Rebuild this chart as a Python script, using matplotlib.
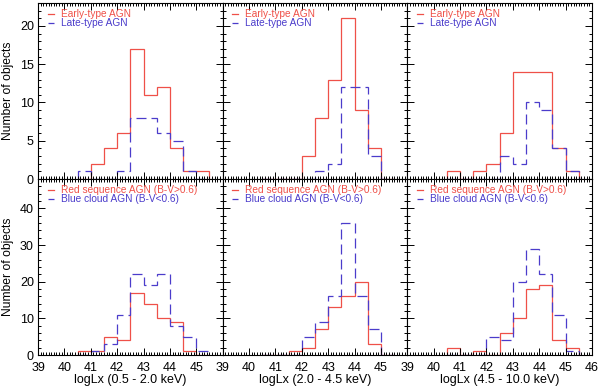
import matplotlib.pyplot as plt
import numpy as np
from matplotlib.ticker import MultipleLocator

plt.rcParams['font.family'] = ['Liberation Sans', 'DejaVu Sans']

# bin edges (logLx), 0.5 dex bins
edges = np.arange(40.5, 46.0, 0.5)

# top row: morphology split
early_soft = [0, 2, 4, 6, 17, 11, 12, 4, 1, 1]
late_soft = [1, 0, 0, 1, 8, 8, 6, 5, 1, 0]
early_hard = [0, 0, 0, 3, 8, 13, 21, 9, 4, 0]
late_hard = [0, 0, 0, 0, 1, 2, 12, 12, 3, 0]
early_ultra = [1, 0, 1, 2, 6, 14, 14, 14, 4, 1]
late_ultra = [0, 0, 0, 0, 3, 2, 10, 9, 4, 1]

# bottom row: colour split
red_soft = [1, 1, 5, 4, 17, 14, 10, 9, 1, 0]
blue_soft = [0, 1, 3, 11, 22, 19, 22, 8, 5, 1]
red_hard = [0, 0, 1, 2, 7, 13, 16, 20, 3, 0]
blue_hard = [0, 0, 0, 5, 9, 16, 36, 16, 7, 0]
red_ultra = [2, 0, 1, 0, 6, 10, 18, 19, 4, 2]
blue_ultra = [0, 0, 0, 5, 4, 20, 29, 22, 11, 1]

bands = ["0.5 - 2.0 keV", "2.0 - 4.5 keV", "4.5 - 10.0 keV"]
top_labels = ["Early-type AGN", "Late-type AGN"]
bot_labels = ["Red sequence AGN (B-V>0.6)", "Blue cloud AGN (B-V<0.6)"]

RED = '#ef5048'
BLUE = '#4b3ccb'

fig, axes = plt.subplots(2, 3, figsize=(6, 3.89), dpi=100)
fig.subplots_adjust(left=38/600, right=592/600, top=1-3/389, bottom=1-355/389,
                    wspace=0, hspace=0)

top = [(early_soft, late_soft), (early_hard, late_hard), (early_ultra, late_ultra)]
bot = [(red_soft, blue_soft), (red_hard, blue_hard), (red_ultra, blue_ultra)]

for row, (data, labels, ymax, major, minor) in enumerate(
        [(top, top_labels, 23, 5, 1), (bot, bot_labels, 48, 10, 2)]):
    for col in range(3):
        ax = axes[row, col]
        r, b = data[col]
        ax.stairs(r, edges, color=RED, lw=0.9, label=labels[0])
        ax.stairs(b, edges, color=BLUE, lw=0.9, ls=(0, (8, 4)), label=labels[1])
        ax.set_xlim(39, 46)
        ax.set_ylim(0, ymax)
        ax.xaxis.set_major_locator(MultipleLocator(1))
        ax.xaxis.set_minor_locator(MultipleLocator(0.1))
        ax.yaxis.set_major_locator(MultipleLocator(major))
        ax.yaxis.set_minor_locator(MultipleLocator(minor))
        ax.tick_params(which='both', direction='in', top=True, right=True,
                       labelsize=9, width=0.7, pad=3)
        ax.tick_params(axis='x', which='both', pad=5)
        ax.tick_params(which='major', length=5)
        ax.tick_params(which='minor', length=2.5)
        for s in ax.spines.values():
            s.set_linewidth(0.8)
        ax.legend(loc='upper left', bbox_to_anchor=(0.052, 0.965), frameon=False,
                  fontsize=7.3, handlelength=0.6, handletextpad=0.7,
                  labelspacing=-0.1, borderaxespad=0, borderpad=0,
                  labelcolor='linecolor')
        if col > 0:
            ax.set_yticklabels([])
        else:
            ax.set_ylabel("Number of objects", fontsize=8.7, labelpad=4)
        if row == 0:
            ax.set_xticklabels([])
        else:
            ticks = np.arange(39, 47)
            ax.set_xticks(ticks)
            ax.set_xticklabels([str(t) if (t < 46 or col == 2) else '' for t in ticks])
            ax.set_xlabel("logLx (" + bands[col] + ")", fontsize=9, labelpad=0)

plt.savefig("out.png", dpi=100)
